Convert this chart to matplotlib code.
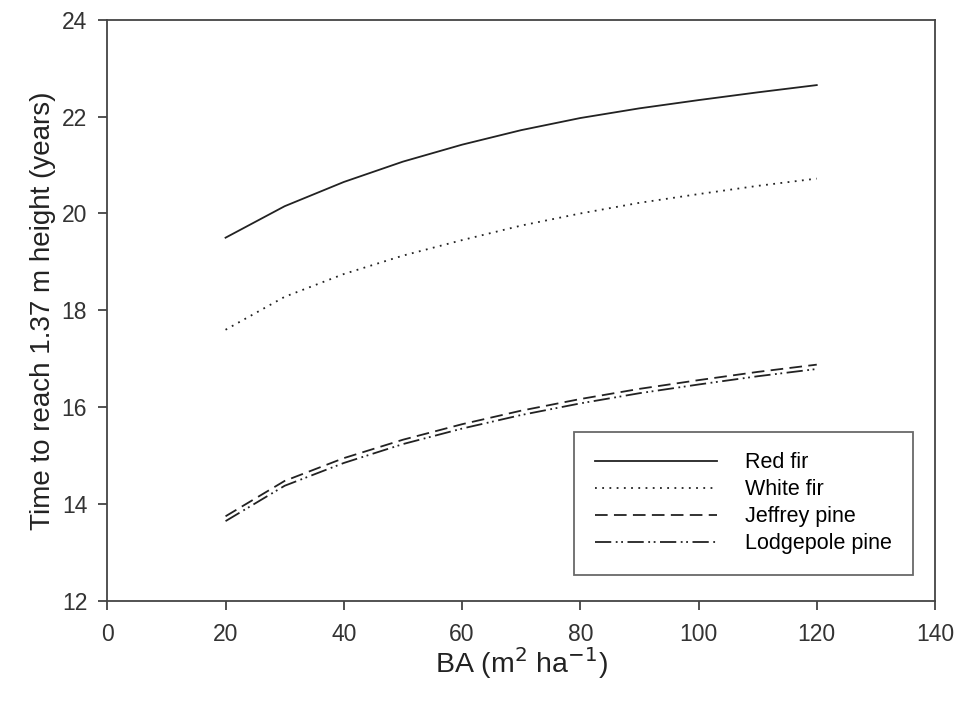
import matplotlib
matplotlib.use('Agg')
import matplotlib.pyplot as plt

plt.rcParams['font.family'] = ['Liberation Sans', 'DejaVu Sans']

# basal area (m2/ha)
ba = [20, 30, 40, 50, 60, 70, 80, 90, 100, 110, 120]

# years to reach 1.37 m
red_fir = [19.5, 20.15, 20.65, 21.07, 21.42, 21.72, 21.97, 22.17, 22.34, 22.5, 22.65]
white_fir = [17.6, 18.28, 18.75, 19.13, 19.45, 19.75, 20.0, 20.22, 20.4, 20.57, 20.72]
jeffrey_pine = [13.75, 14.48, 14.95, 15.33, 15.65, 15.93, 16.17, 16.38, 16.56, 16.73, 16.88]
lodgepole_pine = [13.65, 14.38, 14.85, 15.24, 15.56, 15.84, 16.08, 16.29, 16.47, 16.64, 16.79]

species = ['Red fir', 'White fir', 'Jeffrey pine', 'Lodgepole pine']

fig = plt.figure(figsize=(9.58, 7.03), dpi=100)
ax = fig.add_axes([0.112, 0.145, 0.864, 0.827])

lc = '#222222'
ax.plot(ba, red_fir, color=lc, lw=1.3, ls='-', label=species[0])
ax.plot(ba, white_fir, color=lc, lw=1.3, ls=(0, (1, 3)), label=species[1])
ax.plot(ba, jeffrey_pine, color=lc, lw=1.3, ls=(0, (7, 3.5)), label=species[2])
ax.plot(ba, lodgepole_pine, color=lc, lw=1.3, ls=(0, (9, 2.5, 1, 2, 1, 2.5)), label=species[3])

ax.set_xlim(0, 140)
ax.set_ylim(12, 24)
ax.set_xticks(range(0, 141, 20))
ax.set_yticks(range(12, 25, 2))
ax.tick_params(direction='out', length=6.5, width=1.2, labelsize=16.5, colors='#333333')
ax.tick_params(axis='x', pad=9)
ax.tick_params(axis='y', pad=8)
for s in ax.spines.values():
    s.set_linewidth(1.3)
    s.set_color('#444444')

ax.set_xlabel('BA (m$^2$ ha$^{-1}$)', fontsize=20.5, color='#222222', labelpad=0)
ax.set_ylabel('Time to reach 1.37 m height (years)', fontsize=20, color='#222222', labelpad=4)

leg = ax.legend(loc='lower right', bbox_to_anchor=(0.973, 0.045), fontsize=15.5,
                handlelength=5.7, handletextpad=1.3, borderpad=0.95, labelspacing=0.28,
                fancybox=False, frameon=True, borderaxespad=0)
leg.get_frame().set_edgecolor('#444444')
leg.get_frame().set_linewidth(1.3)

fig.savefig('out.png', dpi=100)
